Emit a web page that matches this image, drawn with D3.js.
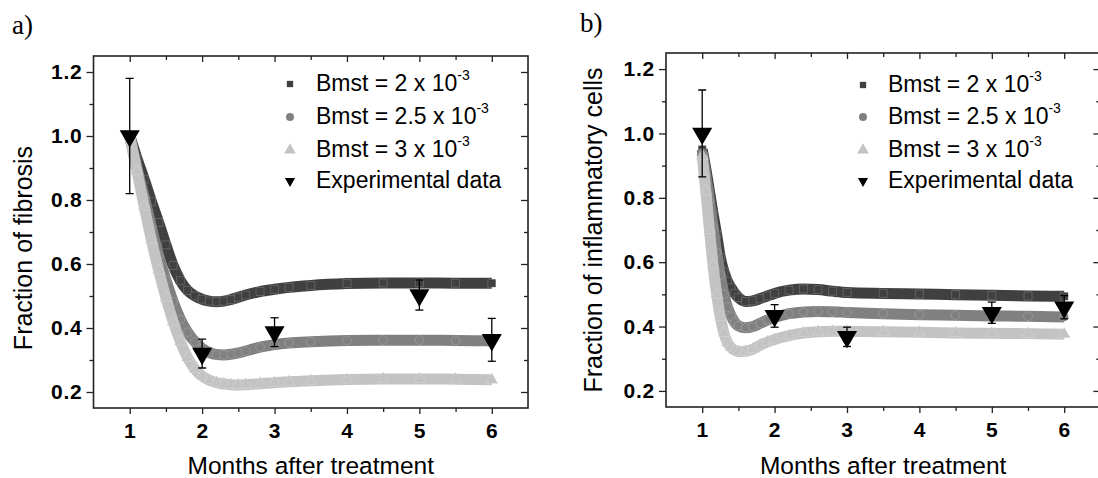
<!DOCTYPE html>
<html>
<head>
<meta charset="utf-8">
<script src="https://cdn.jsdelivr.net/npm/d3@7"></script>
<style>
  body { margin: 0; background: #fff; }
  svg { display: block; }
  text { font-family: "Liberation Sans", Arial, sans-serif; }
</style>
</head>
<body>
<script>
// ---- data ----
// panel a) fraction of fibrosis
var fibMonths = [1.0, 1.1, 1.2, 1.3, 1.4, 1.5, 1.6, 1.7, 1.8, 1.9, 2.0, 2.1, 2.2, 2.3, 2.4, 2.5, 2.6, 2.8, 3.0, 3.2, 3.5, 4.0, 4.5, 5.0, 5.5, 6.0];
var fibB2  = [1.0, 0.93, 0.865, 0.795, 0.73, 0.66, 0.595, 0.548, 0.517, 0.50, 0.49, 0.484, 0.482, 0.484, 0.489, 0.496, 0.503, 0.514, 0.521, 0.527, 0.533, 0.539, 0.541, 0.541, 0.54, 0.54];
var fibB25 = [1.0, 0.90, 0.81, 0.715, 0.625, 0.55, 0.482, 0.427, 0.387, 0.357, 0.336, 0.323, 0.317, 0.316, 0.318, 0.322, 0.328, 0.34, 0.348, 0.353, 0.357, 0.361, 0.362, 0.362, 0.361, 0.36];
var fibB3  = [1.0, 0.89, 0.78, 0.675, 0.58, 0.495, 0.42, 0.357, 0.307, 0.272, 0.25, 0.237, 0.229, 0.225, 0.223, 0.222, 0.223, 0.226, 0.229, 0.232, 0.235, 0.239, 0.241, 0.241, 0.24, 0.238];

// panel b) fraction of inflammatory cells
var inflMonths = [1.0, 1.05, 1.1, 1.15, 1.2, 1.25, 1.3, 1.35, 1.4, 1.45, 1.5, 1.6, 1.7, 1.8, 1.9, 2.0, 2.2, 2.4, 2.6, 2.8, 3.0, 3.5, 4.0, 4.5, 5.0, 5.5, 6.0];
var inflB2  = [0.95, 0.89, 0.82, 0.75, 0.685, 0.615, 0.57, 0.54, 0.52, 0.503, 0.49, 0.478, 0.48, 0.487, 0.495, 0.503, 0.513, 0.517, 0.515, 0.51, 0.506, 0.503, 0.501, 0.499, 0.497, 0.495, 0.494];
var inflB25 = [0.94, 0.87, 0.79, 0.71, 0.63, 0.56, 0.50, 0.46, 0.432, 0.413, 0.402, 0.396, 0.40, 0.41, 0.42, 0.428, 0.44, 0.445, 0.447, 0.446, 0.444, 0.44, 0.437, 0.435, 0.433, 0.432, 0.43];
var inflB3  = [0.93, 0.82, 0.70, 0.59, 0.50, 0.43, 0.38, 0.35, 0.335, 0.326, 0.322, 0.323, 0.33, 0.342, 0.352, 0.36, 0.372, 0.38, 0.384, 0.385, 0.385, 0.384, 0.382, 0.38, 0.379, 0.378, 0.376];

// experimental data (mean and error)
var expMonths = [1, 2, 3, 5, 6];
var fibExp  = [1.0, 0.32, 0.387, 0.503, 0.363];
var fibErr  = [0.18, 0.045, 0.045, 0.047, 0.067];
var inflExp = [1.0, 0.433, 0.368, 0.443, 0.46];
var inflErr = [0.135, 0.035, 0.03, 0.033, 0.036];

// axes and legend
var xTicks = [1, 2, 3, 4, 5, 6];
var xMinor = [1.5, 2.5, 3.5, 4.5, 5.5];
var yTicks = [0.2, 0.4, 0.6, 0.8, 1.0, 1.2];
var yMinor = [0.3, 0.5, 0.7, 0.9, 1.1];
var seriesNames = ["Bmst = 2 x 10", "Bmst = 2.5 x 10", "Bmst = 3 x 10"];
var seriesSup = "-3";
var expName = "Experimental data";

// ---- drawing ----
var W = 1098, H = 478;
var svg = d3.select("body").append("svg")
    .attr("width", W)
    .attr("height", H);

var colors = ["#404040", "#808080", "#c3c3c3"];
var symbols = [d3.symbolSquare, d3.symbolCircle, d3.symbolTriangle];
var symSizes = [64, 60, 66];
var legSizes = [40, 50, 60];
var axisColor = "#222";

function styleAxis(g) {
  g.select(".domain").remove();
  g.selectAll(".tick line").attr("stroke", axisColor).attr("stroke-width", 1.3);
  g.selectAll(".tick text")
    .attr("fill", "#000")
    .style("font-size", "21px")
    .style("font-weight", "bold")
    .style("letter-spacing", "0.8px");
}

function drawPanel(p) {
  var x = d3.scaleLinear().domain([0.5, 6.5]).range([p.left, p.right]);
  var y = d3.scaleLinear().domain([0.15, 1.25]).range([p.bottom, p.top]);
  var g = svg.append("g");

  // clip to plotting area
  var clipId = "clip" + p.id;
  svg.append("clipPath").attr("id", clipId)
    .append("rect")
    .attr("x", p.left).attr("y", p.top)
    .attr("width", p.right - p.left).attr("height", p.bottom - p.top);
  var plot = g.append("g").attr("clip-path", "url(#" + clipId + ")");

  var line = d3.line()
      .x(function(d) { return x(d[0]); })
      .y(function(d) { return y(d[1]); })
      .curve(d3.curveMonotoneX);

  p.series.forEach(function(vals, i) {
    var pts = p.months.map(function(m, j) { return [m, vals[j]]; });
    plot.append("path")
      .datum(pts)
      .attr("d", line)
      .attr("fill", "none")
      .attr("stroke", colors[i])
      .attr("stroke-width", 11);
    plot.selectAll(".m" + i)
      .data(pts)
      .enter().append("path")
      .attr("class", "m" + i)
      .attr("d", d3.symbol().type(symbols[i]).size(symSizes[i]))
      .attr("transform", function(d) { return "translate(" + x(d[0]) + "," + y(d[1]) + ")"; })
      .attr("fill", colors[i])
      .attr("stroke", "#fff")
      .attr("stroke-opacity", 0.35)
      .attr("stroke-width", 0.5);
  });

  // experimental points
  var exp = expMonths.map(function(m, j) { return { m: m, v: p.exp[j], e: p.err[j] }; });
  plot.selectAll(".exp")
    .data(exp)
    .enter().append("path")
    .attr("class", "exp")
    .attr("d", d3.symbol().type(d3.symbolTriangle).size(175))
    .attr("transform", function(d) { return "translate(" + x(d.m) + "," + y(d.v) + ") rotate(180)"; })
    .attr("fill", "#000");
  var eb = plot.selectAll(".err").data(exp).enter().append("g").attr("class", "err")
    .attr("stroke", "#000").attr("stroke-width", 1.3);
  eb.append("line")
    .attr("x1", function(d) { return x(d.m); })
    .attr("x2", function(d) { return x(d.m); })
    .attr("y1", function(d) { return y(d.v + d.e); })
    .attr("y2", function(d) { return y(d.v - d.e); });
  eb.append("line")
    .attr("x1", function(d) { return x(d.m) - 4; })
    .attr("x2", function(d) { return x(d.m) + 4; })
    .attr("y1", function(d) { return y(d.v + d.e); })
    .attr("y2", function(d) { return y(d.v + d.e); });
  eb.append("line")
    .attr("x1", function(d) { return x(d.m) - 4; })
    .attr("x2", function(d) { return x(d.m) + 4; })
    .attr("y1", function(d) { return y(d.v - d.e); })
    .attr("y2", function(d) { return y(d.v - d.e); });

  // frame
  g.append("rect")
    .attr("x", p.left).attr("y", p.top)
    .attr("width", p.right - p.left).attr("height", p.bottom - p.top)
    .attr("fill", "none")
    .attr("stroke", axisColor)
    .attr("stroke-width", 1.6);

  // bottom axis (ticks outward)
  g.append("g")
    .attr("transform", "translate(0," + p.bottom + ")")
    .call(d3.axisBottom(x).tickValues(xTicks).tickSize(6).tickPadding(9).tickFormat(d3.format("d")))
    .call(styleAxis);
  g.append("g")
    .attr("transform", "translate(0," + p.bottom + ")")
    .call(d3.axisBottom(x).tickValues(xMinor).tickSize(4).tickFormat(""))
    .call(styleAxis);
  // left axis (ticks outward)
  g.append("g")
    .attr("transform", "translate(" + p.left + ",0)")
    .call(d3.axisLeft(y).tickValues(yTicks).tickSize(7).tickPadding(4).tickFormat(d3.format(".1f")))
    .call(styleAxis);
  g.append("g")
    .attr("transform", "translate(" + p.left + ",0)")
    .call(d3.axisLeft(y).tickValues(yMinor).tickSize(4).tickFormat(""))
    .call(styleAxis);
  // top axis (ticks inward)
  g.append("g")
    .attr("transform", "translate(0," + p.top + ")")
    .call(d3.axisBottom(x).tickValues(xTicks).tickSize(6).tickFormat(""))
    .call(styleAxis);
  g.append("g")
    .attr("transform", "translate(0," + p.top + ")")
    .call(d3.axisBottom(x).tickValues(xMinor).tickSize(4).tickFormat(""))
    .call(styleAxis);
  // right axis (ticks inward)
  g.append("g")
    .attr("transform", "translate(" + p.right + ",0)")
    .call(d3.axisLeft(y).tickValues(yTicks).tickSize(7).tickFormat(""))
    .call(styleAxis);
  g.append("g")
    .attr("transform", "translate(" + p.right + ",0)")
    .call(d3.axisLeft(y).tickValues(yMinor).tickSize(4).tickFormat(""))
    .call(styleAxis);

  // axis titles
  g.append("text")
    .attr("x", (p.left + p.right) / 2)
    .attr("y", 474)
    .attr("text-anchor", "middle")
    .style("font-size", "24.5px")
    .text("Months after treatment");
  g.append("text")
    .attr("transform", "translate(" + p.ylabX + "," + ((p.top + p.bottom) / 2 + p.ylabShift) + ") rotate(-90)")
    .attr("text-anchor", "middle")
    .style("font-size", "25px")
    .text(p.ylab);

  // panel letter
  g.append("text")
    .attr("x", p.letterX).attr("y", p.letterY)
    .style("font-family", "'Liberation Serif', 'Times New Roman', serif")
    .style("font-size", "27px")
    .text(p.letter);

  // legend
  var leg = g.append("g");
  var rows = seriesNames.concat([expName]);
  rows.forEach(function(name, i) {
    var by = p.legY[i];
    var sym = leg.append("path")
      .attr("transform", "translate(" + p.legMarkX + "," + (by - 7) + ")" + (i === 3 ? " rotate(180)" : ""));
    if (i < 3) {
      sym.attr("d", d3.symbol().type(symbols[i]).size(legSizes[i])).attr("fill", colors[i]);
    } else {
      sym.attr("d", d3.symbol().type(d3.symbolTriangle).size(45)).attr("fill", "#000");
    }
    var t = leg.append("text")
      .attr("x", p.legTextX)
      .attr("y", by)
      .style("font-size", "23px")
      .text(name);
    if (i < 3) {
      t.append("tspan")
        .attr("dy", "-11")
        .style("font-size", "14px")
        .text(seriesSup);
    }
  });
}

drawPanel({
  id: "a", left: 93.5, right: 528, top: 56, bottom: 408,
  months: fibMonths, series: [fibB2, fibB25, fibB3],
  exp: fibExp, err: fibErr,
  ylab: "Fraction of fibrosis", ylabX: 32, ylabShift: 16,
  letter: "a)", letterX: 12, letterY: 34,
  legMarkX: 290, legTextX: 316, legY: [91, 124, 157, 188]
});

drawPanel({
  id: "b", left: 666, right: 1100.4, top: 53, bottom: 407,
  months: inflMonths, series: [inflB2, inflB25, inflB3],
  exp: inflExp, err: inflErr,
  ylab: "Fraction of inflammatory cells", ylabX: 602, ylabShift: 0,
  letter: "b)", letterX: 580, letterY: 32,
  legMarkX: 863, legTextX: 888, legY: [92, 124, 157, 188]
});
</script>
</body>
</html>
